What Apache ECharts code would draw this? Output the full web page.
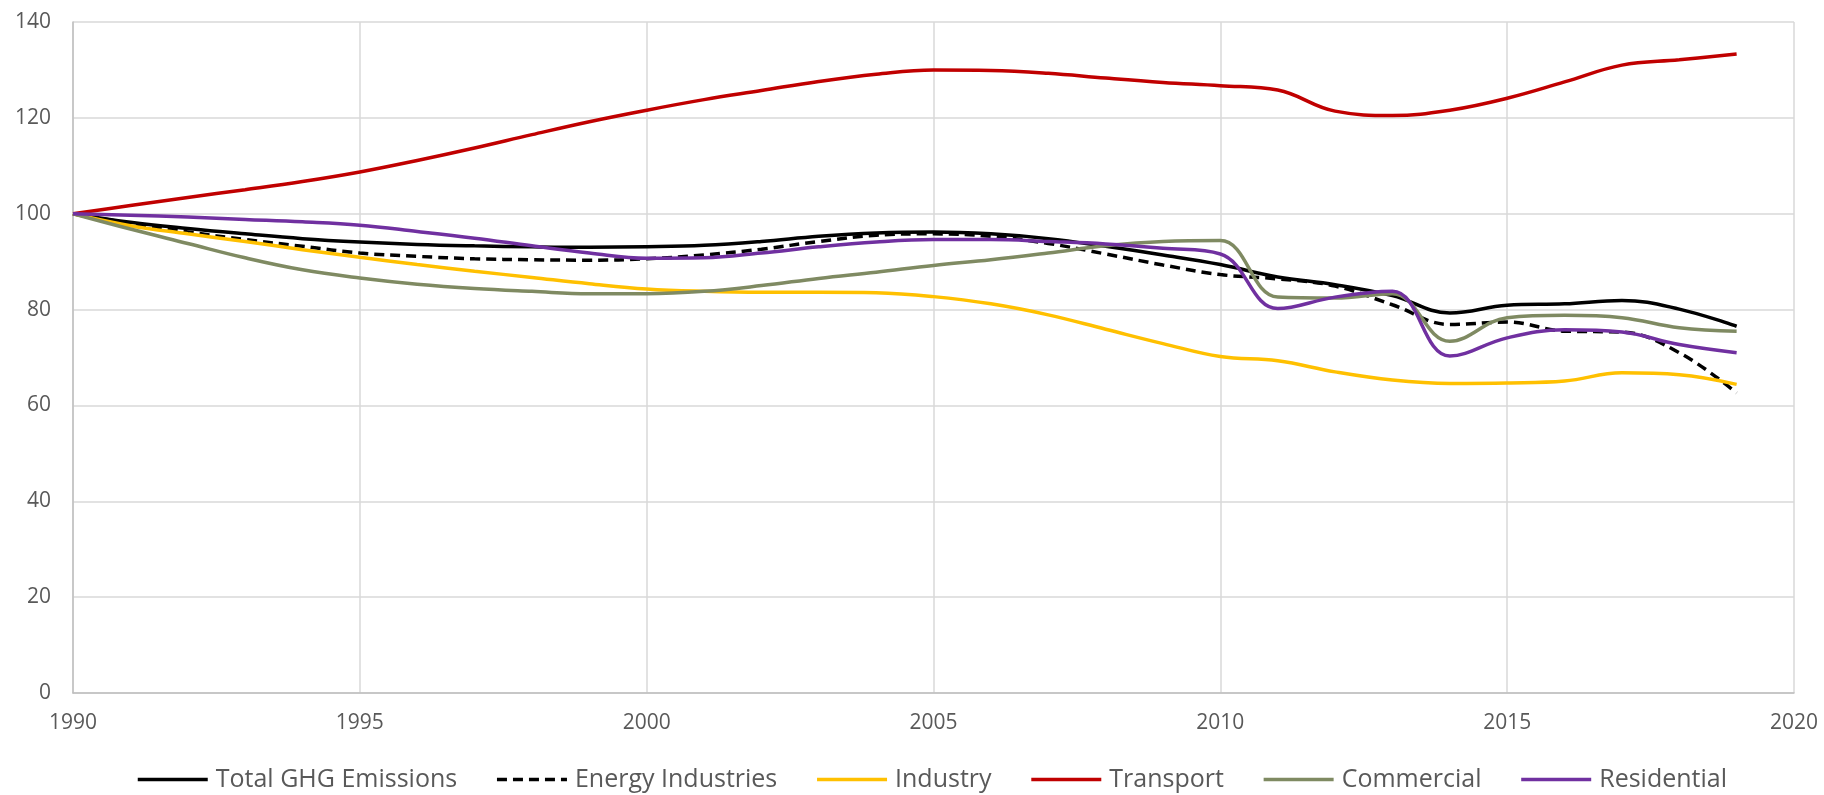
<!DOCTYPE html>
<html>
<head>
<meta charset="utf-8">
<script src="https://cdn.jsdelivr.net/npm/echarts@6/dist/echarts.min.js"></script>
<style>
  html, body { margin: 0; padding: 0; background: #fff; }
  #main { width: 1824px; height: 795px; }
</style>
</head>
<body>
<div id="main"></div>
<script>
// years 1990..2019, index = 1990 base
var years = [1990, 1991, 1992, 1993, 1994, 1995, 1996, 1997, 1998, 1999,
  2000, 2001, 2002, 2003, 2004, 2005, 2006, 2007, 2008, 2009,
  2010, 2011, 2012, 2013, 2014, 2015, 2016, 2017, 2018, 2019];

var totalGHG = [100, 98.2, 96.9, 95.8, 94.8, 94.1, 93.6, 93.3, 93.1, 93.0,
  93.1, 93.4, 94.2, 95.3, 96.0, 96.2, 95.8, 94.8, 93.2, 91.4,
  89.4, 86.8, 85.2, 82.9, 79.3, 80.9, 81.2, 81.9, 80.1, 76.5];

var energyIndustries = [100, 98.0, 96.2, 94.6, 93.2, 91.8, 91.1, 90.6, 90.4, 90.3,
  90.6, 91.4, 92.6, 94.2, 95.5, 95.8, 95.3, 93.8, 91.6, 89.3,
  87.3, 86.4, 84.9, 81.0, 76.9, 77.4, 75.5, 75.3, 71.0, 62.6];

var industry = [100, 97.5, 95.8, 94.2, 92.5, 90.9, 89.4, 88.0, 86.7, 85.4,
  84.3, 83.8, 83.6, 83.6, 83.5, 82.7, 81.2, 78.9, 75.9, 72.9,
  70.2, 69.3, 67.0, 65.3, 64.6, 64.7, 65.1, 66.8, 66.4, 64.4];

var transport = [100, 101.7, 103.4, 105.0, 106.7, 108.7, 111.1, 113.7, 116.5, 119.2,
  121.6, 123.8, 125.7, 127.6, 129.1, 130.0, 129.9, 129.3, 128.3, 127.4,
  126.7, 125.8, 121.4, 120.5, 121.6, 124.1, 127.5, 131.0, 132.1, 133.3];

var commercial = [100, 96.8, 93.8, 90.8, 88.3, 86.6, 85.3, 84.4, 83.8, 83.3,
  83.3, 83.8, 85.0, 86.5, 87.8, 89.2, 90.4, 91.8, 93.3, 94.2,
  94.4, 82.6, 82.4, 83.3, 73.4, 78.3, 78.8, 78.3, 76.2, 75.5];

var residential = [100, 99.7, 99.3, 98.8, 98.3, 97.6, 96.3, 94.9, 93.3, 91.8,
  90.7, 90.8, 91.8, 93.1, 94.1, 94.6, 94.6, 94.2, 93.7, 92.8,
  91.6, 80.2, 82.6, 83.8, 70.3, 74.1, 75.8, 75.3, 72.7, 71.0];

function pairs(vals) {
  return years.map(function (y, i) { return [y, vals[i]]; });
}

function line(name, vals, color, dash) {
  return {
    name: name,
    type: "line",
    data: pairs(vals),
    smooth: 0.4,
    showSymbol: false,
    symbol: "none",
    lineStyle: { color: color, width: 3.5, type: dash || "solid" },
    itemStyle: { color: color }
  };
}

var myChart = echarts.init(document.getElementById("main"));
var option = {
  animation: false,
  grid: { left: 73, right: 30, top: 22, bottom: 102 },
  xAxis: {
    type: "value",
    min: 1990,
    max: 2020,
    interval: 5,
    axisLine: { lineStyle: { color: "#bfbfbf", width: 1.5 } },
    axisTick: { show: false },
    axisLabel: {
      color: "#595959", fontSize: 21, fontFamily: "Open Sans", margin: 20,
      formatter: function (v) { return String(v); }
    },
    splitLine: { show: true, lineStyle: { color: "#d9d9d9", width: 1.5 } }
  },
  yAxis: {
    type: "value",
    min: 0,
    max: 140,
    interval: 20,
    axisLine: { show: true, lineStyle: { color: "#bfbfbf", width: 1.5 } },
    axisTick: { show: false },
    axisLabel: { color: "#595959", fontSize: 21, fontFamily: "Open Sans", margin: 22 },
    splitLine: { show: true, lineStyle: { color: "#d9d9d9", width: 1.5 } }
  },
  legend: {
    left: 131,
    top: 762,
    itemWidth: 70,
    itemHeight: 14,
    itemGap: 38,
    itemStyle: { opacity: 0 },
    lineStyle: { width: 3.5 },
    textStyle: { color: "#595959", fontSize: 25, fontFamily: "Open Sans", padding: [0, 0, 0, 3] },
    data: ["Total GHG Emissions", "Energy Industries", "Industry", "Transport", "Commercial", "Residential"]
  },
  series: [
    line("Total GHG Emissions", totalGHG, "#000000"),
    line("Energy Industries", energyIndustries, "#000000", [10, 6]),
    line("Industry", industry, "#FFC000"),
    line("Transport", transport, "#C00000"),
    line("Commercial", commercial, "#7F8A62"),
    line("Residential", residential, "#7030A0")
  ]
};
myChart.setOption(option);
</script>
</body>
</html>
